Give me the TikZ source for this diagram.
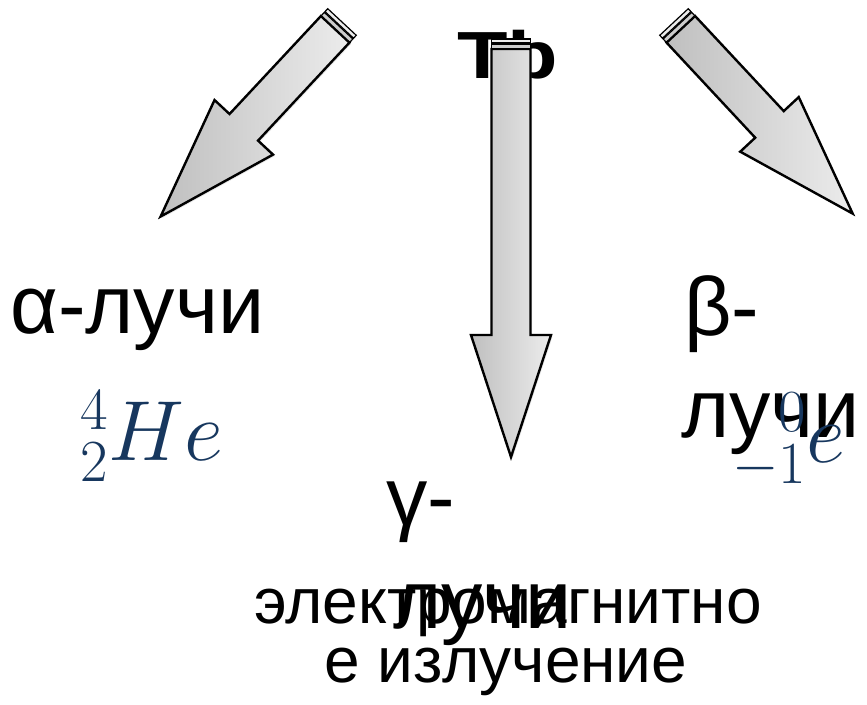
\documentclass[tikz,border=0pt]{standalone}
\usepackage{fix-cm}
\usepackage[no-math]{fontspec}
\setmainfont{Liberation Sans}
\usepackage{graphicx}
\usetikzlibrary{shadows}
\definecolor{nucblue}{RGB}{23,55,94}

\begin{document}
\begin{tikzpicture}[
  x=0.75pt, y=-0.75pt,
  lbl/.style={font=\fontsize{62}{74}\selectfont, inner sep=0pt, anchor=base west},
  note/.style={font=\fontsize{48}{58}\selectfont, inner sep=0pt, anchor=base},
  nuc/.style={font=\fontsize{64}{76}\selectfont, text=nucblue,
    inner sep=0pt, anchor=base west},
  beam/.style={draw=black, line width=1.8pt, line join=miter,
    left color=gray!50, right color=gray!15,
    drop shadow={opacity=0.18, shadow xshift=1.2pt, shadow yshift=-1.2pt}},
  rim/.style={draw=black, line width=0.9pt},
  pics/ray/.style={code={
    \path[beam] (-19.5,10) -- (-19.5,#1-122) -- (-40,#1-122) -- (0,#1)
      -- (40,#1-122) -- (19.5,#1-122) -- (19.5,10) -- cycle;
    \path[rim, fill=gray!15] (-19.5,0) rectangle (19.5,4);
    \path[rim, fill=gray!40] (-19.5,5) rectangle (19.5,9.5);
  }},
]
\useasboundingbox (0,0) rectangle (867,704);
% parent nucleus, partly behind the middle ray
\node[font=\fontsize{50}{60}\selectfont\bfseries, inner sep=0pt, anchor=base west]
  (tb) at (457,78) {\scalebox{1.24}[1]{Tb}};
% the three rays
\pic at (511,39) {ray=418};
\pic[rotate=-43] at (342,22) {ray=266};
\pic[rotate=43] at (674,22) {ray=262};
% labels
\node[lbl] (alpha) at (10,333) {α-лучи};
\node[lbl] (beta1) at (684,335) {β-};
\node[lbl] (beta2) at (681,437) {лучи};
\node[lbl] (gamma1) at (386,525) {γ-};
\node[lbl] (gamma2) at (393,628) {лучи};
\node[note] (em1) at (508,623) {электромагнитно};
\node[note] (em2) at (506,682) {е излучение};
% particles
\node[nuc] (he) at (80,460) {${}^{4}_{2}He$};
\node[nuc] (el) at (732,462) {${}^{\hphantom{-}0}_{-1}e$};
\end{tikzpicture}
\end{document}
